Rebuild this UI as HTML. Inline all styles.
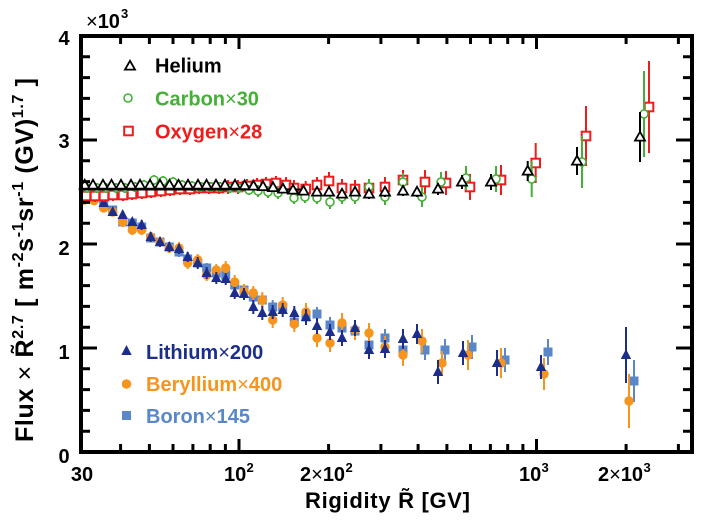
<!DOCTYPE html>
<html><head><meta charset="utf-8"><style>
html,body{margin:0;padding:0;background:#fff;}
svg{display:block;}
text{font-family:"Liberation Sans",Arial,sans-serif;}
</style></head><body>
<svg width="703" height="521" viewBox="0 0 703 521" xmlns="http://www.w3.org/2000/svg">
<defs>
<path id="tH" d="M0,-5.2 L5,3.6 L-5,3.6Z" fill="#fff" stroke="#000" stroke-width="1.8"/>
<circle id="cC" r="4" fill="#fff" stroke="#44b035" stroke-width="1.6"/>
<rect id="sO" x="-4.3" y="-4.3" width="8.6" height="8.6" fill="#fff" stroke="#ee1c1c" stroke-width="2"/>
<path id="tL" d="M0,-6 L5.2,4 L-5.2,4Z" fill="#1c2d8c"/>
<circle id="cB" r="4.7" fill="#f7941e"/>
<rect id="sB" x="-4.5" y="-4.5" width="9" height="9" fill="#5a87c9"/>
</defs>
<rect width="703" height="521" fill="#fff"/>

<!-- Boron error bars + points -->
<path stroke="#5a87c9" stroke-width="2" fill="none" d="M84 190V196M94 195V201M103.7 202V208M112.7 206V214M122.7 218V226M132.3 219V227M141.7 223V231M150.7 234V242M160 238V246M169.3 242V252M179 247V257M187.7 254V264M197.7 258V268M206.7 263V273M216.3 268V278M225.7 269V281M234.7 279V291M244 284V296M253.3 291V303M262.3 294V306M272.7 300V314M282.7 300V314M294.3 315V329M306 310V324M317 307V321M330 317V333M342 320V336M355 323V339M369 336V354M385 329V347M403 340V360M425 340V360M445 339V361M472 335V359M505 348V372M548 339V365M634 360V402"/>
<g>
<use href="#sB" x="84" y="193"/><use href="#sB" x="94" y="198"/><use href="#sB" x="103.7" y="205"/><use href="#sB" x="112.7" y="210"/><use href="#sB" x="122.7" y="222"/><use href="#sB" x="132.3" y="223"/><use href="#sB" x="141.7" y="227"/><use href="#sB" x="150.7" y="238"/><use href="#sB" x="160" y="242"/><use href="#sB" x="169.3" y="247"/><use href="#sB" x="179" y="252"/><use href="#sB" x="187.7" y="259"/><use href="#sB" x="197.7" y="263"/><use href="#sB" x="206.7" y="268"/><use href="#sB" x="216.3" y="273"/><use href="#sB" x="225.7" y="275"/><use href="#sB" x="234.7" y="285"/><use href="#sB" x="244" y="290"/><use href="#sB" x="253.3" y="297"/><use href="#sB" x="262.3" y="300"/><use href="#sB" x="272.7" y="307"/><use href="#sB" x="282.7" y="307"/><use href="#sB" x="294.3" y="322"/><use href="#sB" x="306" y="317"/><use href="#sB" x="317" y="314"/><use href="#sB" x="330" y="325"/><use href="#sB" x="342" y="328"/><use href="#sB" x="355" y="331"/><use href="#sB" x="369" y="345"/><use href="#sB" x="385" y="338"/><use href="#sB" x="403" y="350"/><use href="#sB" x="425" y="350"/><use href="#sB" x="445" y="350"/><use href="#sB" x="472" y="347"/><use href="#sB" x="505" y="360"/><use href="#sB" x="548" y="352"/><use href="#sB" x="634" y="381"/>
</g>

<!-- Beryllium -->
<path stroke="#f7941e" stroke-width="2" fill="none" d="M84 196V204M94 196.7V204.7M103.7 204V212M112.7 208V216M122.7 217V227M132.3 225V235M141.7 225V235M150.7 232V242M160 237V247M169.3 243V253M179 242V254M187.7 257V269M197.7 254V266M206.7 269V281M216.3 264V276M225.7 261V275M234.7 275V289M244 284V298M253.3 286V300M262.3 292V308M272.7 312V328M282.7 297V313M294.3 316V332M306 303V321M317 329V347M330 334V352M342 313V333M355 320V340M369 323V343M385 336V358M403 344V366M422 329V353M442 351V375M468 340V370M501 348V378M544 358V390M629 374V428"/>
<g>
<use href="#cB" x="84" y="200"/><use href="#cB" x="94" y="200.7"/><use href="#cB" x="103.7" y="208"/><use href="#cB" x="112.7" y="212"/><use href="#cB" x="122.7" y="222"/><use href="#cB" x="132.3" y="230"/><use href="#cB" x="141.7" y="230"/><use href="#cB" x="150.7" y="237"/><use href="#cB" x="160" y="242"/><use href="#cB" x="169.3" y="248"/><use href="#cB" x="179" y="248"/><use href="#cB" x="187.7" y="263"/><use href="#cB" x="197.7" y="260"/><use href="#cB" x="206.7" y="275"/><use href="#cB" x="216.3" y="270"/><use href="#cB" x="225.7" y="268"/><use href="#cB" x="234.7" y="282"/><use href="#cB" x="244" y="291"/><use href="#cB" x="253.3" y="293"/><use href="#cB" x="262.3" y="300"/><use href="#cB" x="272.7" y="320"/><use href="#cB" x="282.7" y="305"/><use href="#cB" x="294.3" y="324"/><use href="#cB" x="306" y="312"/><use href="#cB" x="317" y="338"/><use href="#cB" x="330" y="343"/><use href="#cB" x="342" y="323"/><use href="#cB" x="355" y="330"/><use href="#cB" x="369" y="333"/><use href="#cB" x="385" y="347"/><use href="#cB" x="403" y="355"/><use href="#cB" x="422" y="341"/><use href="#cB" x="442" y="363"/><use href="#cB" x="468" y="355"/><use href="#cB" x="501" y="363"/><use href="#cB" x="544" y="374"/><use href="#cB" x="629" y="401"/>
</g>

<!-- Lithium -->
<path stroke="#1c2d8c" stroke-width="2" fill="none" d="M84 183V191M94 193V201M103.7 199V207M112.7 208V216M122.7 211V219M132.3 218V226M141.7 220V230M150.7 232V242M160 237V247M169.3 242V252M179 244V254M187.7 252V262M197.7 257V269M206.7 267V279M216.3 272V284M225.7 273V285M234.7 287V299M244 288V300M253.3 300V314M262.3 306V320M272.7 305V319M282.7 303V317M294.3 306V320M306 309V325M317 318V334M330 324V340M342 330V346M355 320V336M369 341V359M385 340V358M403 329V349M417 324V344M438 360V384M463 341V365M497 350V376M541 355V379M626 327V383"/>
<g>
<use href="#tL" x="84" y="187"/><use href="#tL" x="94" y="197"/><use href="#tL" x="103.7" y="203"/><use href="#tL" x="112.7" y="212"/><use href="#tL" x="122.7" y="215"/><use href="#tL" x="132.3" y="222"/><use href="#tL" x="141.7" y="225"/><use href="#tL" x="150.7" y="237"/><use href="#tL" x="160" y="242"/><use href="#tL" x="169.3" y="247"/><use href="#tL" x="179" y="249"/><use href="#tL" x="187.7" y="257"/><use href="#tL" x="197.7" y="263"/><use href="#tL" x="206.7" y="273"/><use href="#tL" x="216.3" y="278"/><use href="#tL" x="225.7" y="279"/><use href="#tL" x="234.7" y="293"/><use href="#tL" x="244" y="294"/><use href="#tL" x="253.3" y="307"/><use href="#tL" x="262.3" y="313"/><use href="#tL" x="272.7" y="312"/><use href="#tL" x="282.7" y="310"/><use href="#tL" x="294.3" y="313"/><use href="#tL" x="306" y="317"/><use href="#tL" x="317" y="326"/><use href="#tL" x="330" y="332"/><use href="#tL" x="342" y="338"/><use href="#tL" x="355" y="328"/><use href="#tL" x="369" y="350"/><use href="#tL" x="385" y="349"/><use href="#tL" x="403" y="339"/><use href="#tL" x="417" y="334"/><use href="#tL" x="438" y="372"/><use href="#tL" x="463" y="353"/><use href="#tL" x="497" y="363"/><use href="#tL" x="541" y="367"/><use href="#tL" x="626" y="355"/>
</g>

<!-- Oxygen -->
<path stroke="#ee1c1c" stroke-width="2" fill="none" d="M86 190V202M95 190V202M104 190V202M113 189V201M123 189V201M132 188V200M142 187V199M151 186V198M161 185V197M170 184V196M180 183V195M190 183V195M199 182V194M209 182V194M219 182V194M228 180V194M238 180V194M247 179V193M257 178V192M266 177V191M276 176V190M286 177V193M294 180V196M305.7 181V197M317 177V193M329 172V190M342 179V197M355 180V198M369 179V197M385 177V197M403 170V190M425 170V194M446 171V195M470 174V200M501 165V195M535.7 143V183M586 106V166M649 61V153"/>
<g>
<use href="#sO" x="86" y="196"/><use href="#sO" x="95" y="196"/><use href="#sO" x="104" y="196"/><use href="#sO" x="113" y="195"/><use href="#sO" x="123" y="195"/><use href="#sO" x="132" y="194"/><use href="#sO" x="142" y="193"/><use href="#sO" x="151" y="192"/><use href="#sO" x="161" y="191"/><use href="#sO" x="170" y="190"/><use href="#sO" x="180" y="189"/><use href="#sO" x="190" y="189"/><use href="#sO" x="199" y="188"/><use href="#sO" x="209" y="188"/><use href="#sO" x="219" y="188"/><use href="#sO" x="228" y="187"/><use href="#sO" x="238" y="187"/><use href="#sO" x="247" y="186"/><use href="#sO" x="257" y="185"/><use href="#sO" x="266" y="184"/><use href="#sO" x="276" y="183"/><use href="#sO" x="286" y="185"/><use href="#sO" x="294" y="188"/><use href="#sO" x="305.7" y="189"/><use href="#sO" x="317" y="185"/><use href="#sO" x="329" y="181"/><use href="#sO" x="342" y="188"/><use href="#sO" x="355" y="189"/><use href="#sO" x="369" y="188"/><use href="#sO" x="385" y="187"/><use href="#sO" x="403" y="180"/><use href="#sO" x="425" y="182"/><use href="#sO" x="446" y="183"/><use href="#sO" x="470" y="187"/><use href="#sO" x="501" y="180"/><use href="#sO" x="535.7" y="163"/><use href="#sO" x="586" y="136"/><use href="#sO" x="649" y="107"/>
</g>

<!-- Carbon -->
<path stroke="#44b035" stroke-width="2" fill="none" d="M87 183V193M97 183V193M106 183V193M116 183V193M125 183V193M135 182V192M144 180V190M154 175V185M163 176V186M173 177V187M182 180V190M192 181V191M201 182V192M211 182V192M220 182V192M230 183V193M239 183V193M249 185V195M258 185V197M268 186V198M278 187V199M294 192V204M305 191V203M317 192V204M330 195V209M342 190V204M355 190V204M369 179V195M385 189V205M403 173V191M422 187V207M441 172V192M466 166V190M496 166V192M531.7 161V197M582 136V188M644 71V157"/>
<g>
<use href="#cC" x="87" y="188"/><use href="#cC" x="97" y="188"/><use href="#cC" x="106" y="188"/><use href="#cC" x="116" y="188"/><use href="#cC" x="125" y="188"/><use href="#cC" x="135" y="187"/><use href="#cC" x="144" y="185"/><use href="#cC" x="154" y="180"/><use href="#cC" x="163" y="181"/><use href="#cC" x="173" y="182"/><use href="#cC" x="182" y="185"/><use href="#cC" x="192" y="186"/><use href="#cC" x="201" y="187"/><use href="#cC" x="211" y="187"/><use href="#cC" x="220" y="187"/><use href="#cC" x="230" y="188"/><use href="#cC" x="239" y="188"/><use href="#cC" x="249" y="190"/><use href="#cC" x="258" y="191"/><use href="#cC" x="268" y="192"/><use href="#cC" x="278" y="193"/><use href="#cC" x="294" y="198"/><use href="#cC" x="305" y="197"/><use href="#cC" x="317" y="198"/><use href="#cC" x="330" y="202"/><use href="#cC" x="342" y="197"/><use href="#cC" x="355" y="197"/><use href="#cC" x="369" y="187"/><use href="#cC" x="385" y="197"/><use href="#cC" x="403" y="182"/><use href="#cC" x="422" y="197"/><use href="#cC" x="441" y="182"/><use href="#cC" x="466" y="178"/><use href="#cC" x="496" y="179"/><use href="#cC" x="531.7" y="179"/><use href="#cC" x="582" y="162"/><use href="#cC" x="644" y="114"/>
</g>

<!-- Helium -->
<line x1="82" y1="189.5" x2="306" y2="189.5" stroke="#000" stroke-width="2"/>
<path stroke="#000" stroke-width="2" fill="none" d="M293 186V194M303.5 187V195M317 188V196M329 188V196M342 190V198M355 188V196M369 189V199M385 187V197M403 186V196M417 187V197M438 183V195M462 175V189M491 174V190M527.7 161V181M577 147V175M640 112V162"/>
<g>
<use href="#tH" x="84.7" y="185"/><use href="#tH" x="93" y="185"/><use href="#tH" x="103" y="185"/><use href="#tH" x="111.5" y="185"/><use href="#tH" x="121" y="185"/><use href="#tH" x="131" y="185"/><use href="#tH" x="140" y="185"/><use href="#tH" x="150" y="185"/><use href="#tH" x="160" y="185"/><use href="#tH" x="169.5" y="185"/><use href="#tH" x="178.5" y="185"/><use href="#tH" x="188" y="185"/><use href="#tH" x="198" y="185"/><use href="#tH" x="206.5" y="185"/><use href="#tH" x="216" y="185"/><use href="#tH" x="225" y="185"/><use href="#tH" x="235" y="185"/><use href="#tH" x="244.7" y="185.5"/><use href="#tH" x="253.5" y="186"/><use href="#tH" x="263" y="186.5"/><use href="#tH" x="273" y="187.5"/><use href="#tH" x="283" y="189"/><use href="#tH" x="293" y="190"/><use href="#tH" x="303.5" y="191"/><use href="#tH" x="317" y="192"/><use href="#tH" x="329" y="192"/><use href="#tH" x="342" y="194"/><use href="#tH" x="355" y="192"/><use href="#tH" x="369" y="194"/><use href="#tH" x="385" y="192"/><use href="#tH" x="403" y="191"/><use href="#tH" x="417" y="192"/><use href="#tH" x="438" y="189"/><use href="#tH" x="462" y="182"/><use href="#tH" x="491" y="182"/><use href="#tH" x="527.7" y="171"/><use href="#tH" x="577" y="161"/><use href="#tH" x="640" y="137"/>
</g>

<!-- Axes frame -->
<rect x="81" y="36" width="611" height="416" fill="none" stroke="#000" stroke-width="4"/>
<!-- Y ticks -->
<path stroke="#000" stroke-width="3" fill="none" d="
M81 431.2h9M81 410.4h9M81 389.6h9M81 368.8h9M81 348h16M81 327.2h9M81 306.4h9M81 285.6h9M81 264.8h9M81 244h16M81 223.2h9M81 202.4h9M81 181.6h9M81 160.8h9M81 140h16M81 119.2h9M81 98.4h9M81 77.6h9M81 56.8h9
M692 431.2h-9M692 410.4h-9M692 389.6h-9M692 368.8h-9M692 348h-16M692 327.2h-9M692 306.4h-9M692 285.6h-9M692 264.8h-9M692 244h-16M692 223.2h-9M692 202.4h-9M692 181.6h-9M692 160.8h-9M692 140h-16M692 119.2h-9M692 98.4h-9M692 77.6h-9M692 56.8h-9"/>
<!-- X ticks -->
<path stroke="#000" stroke-width="3" fill="none" d="
M120.6 452v-8M149.4 452v-8M173 452v-8M192.9 452v-8M210.2 452v-8M225.4 452v-8M239 452v-13M328.6 452v-8M380.9 452v-8M418.1 452v-8M446.9 452v-8M470.5 452v-8M490.4 452v-8M507.7 452v-8M522.9 452v-8M536.5 452v-13M626.1 452v-8M678.4 452v-8
M120.6 36v8M149.4 36v8M173 36v8M192.9 36v8M210.2 36v8M225.4 36v8M239 36v13M328.6 36v8M380.9 36v8M418.1 36v8M446.9 36v8M470.5 36v8M490.4 36v8M507.7 36v8M522.9 36v8M536.5 36v13M626.1 36v8M678.4 36v8"/>

<!-- Y tick labels -->
<g font-size="20" font-weight="bold" text-anchor="middle" fill="#000">
<text x="64" y="45">4</text>
<text x="64" y="148">3</text>
<text x="64" y="255">2</text>
<text x="64" y="359">1</text>
<text x="64" y="463">0</text>
</g>
<!-- x10^3 -->
<text x="86" y="28" font-size="20" fill="#000"><tspan font-weight="normal">×</tspan><tspan font-weight="bold">10</tspan></text>
<text x="121" y="18" font-size="13" font-weight="bold" fill="#000">3</text>

<!-- X tick labels -->
<g font-size="20" font-weight="bold" fill="#000">
<text x="82" y="481" text-anchor="middle">30</text>
<text x="224" y="481">10</text>
<text x="246.5" y="472" font-size="13">2</text>
<text x="300" y="481">2<tspan font-weight="normal">×</tspan>10</text>
<text x="345.5" y="472" font-size="13">2</text>
<text x="519" y="481">10</text>
<text x="541.5" y="472" font-size="13">3</text>
<text x="598" y="481">2<tspan font-weight="normal">×</tspan>10</text>
<text x="643.5" y="472" font-size="13">3</text>
</g>

<!-- Axis titles -->
<text x="305" y="508" font-size="22" font-weight="bold" fill="#000" textLength="165" lengthAdjust="spacing">Rigidity R&#771; [GV]</text>
<text transform="translate(33,442) rotate(-90)" font-size="25" font-weight="bold" fill="#000" textLength="364" lengthAdjust="spacing">Flux <tspan font-weight="normal">×</tspan> R&#771;<tspan font-size="16" dy="-10">2.7</tspan><tspan dy="10"> [ m</tspan><tspan font-size="16" dy="-10">-2</tspan><tspan dy="10">s</tspan><tspan font-size="16" dy="-10">-1</tspan><tspan dy="10">sr</tspan><tspan font-size="16" dy="-10">-1</tspan><tspan dy="10"> (GV)</tspan><tspan font-size="16" dy="-10">1.7</tspan><tspan dy="10"> ]</tspan></text>

<!-- Legend upper -->
<use href="#tH" x="130" y="66"/>
<use href="#cC" x="128" y="98"/>
<use href="#sO" x="128.5" y="131"/>
<g font-size="20" font-weight="bold">
<text x="155" y="72.5" fill="#000">Helium</text>
<text x="155" y="105.5" fill="#44b035">Carbon<tspan font-weight="normal">×</tspan>30</text>
<text x="155" y="138.5" fill="#ee1c1c">Oxygen<tspan font-weight="normal">×</tspan>28</text>
</g>
<!-- Legend lower -->
<use href="#tL" x="126.5" y="351"/>
<use href="#cB" x="126.5" y="384"/>
<use href="#sB" x="126.5" y="415.5"/>
<g font-size="20" font-weight="bold">
<text x="146" y="359" fill="#1c2d8c">Lithium<tspan font-weight="normal">×</tspan>200</text>
<text x="146" y="391" fill="#f7941e">Beryllium<tspan font-weight="normal">×</tspan>400</text>
<text x="146" y="423" fill="#5a87c9">Boron<tspan font-weight="normal">×</tspan>145</text>
</g>
</svg>
</body></html>
